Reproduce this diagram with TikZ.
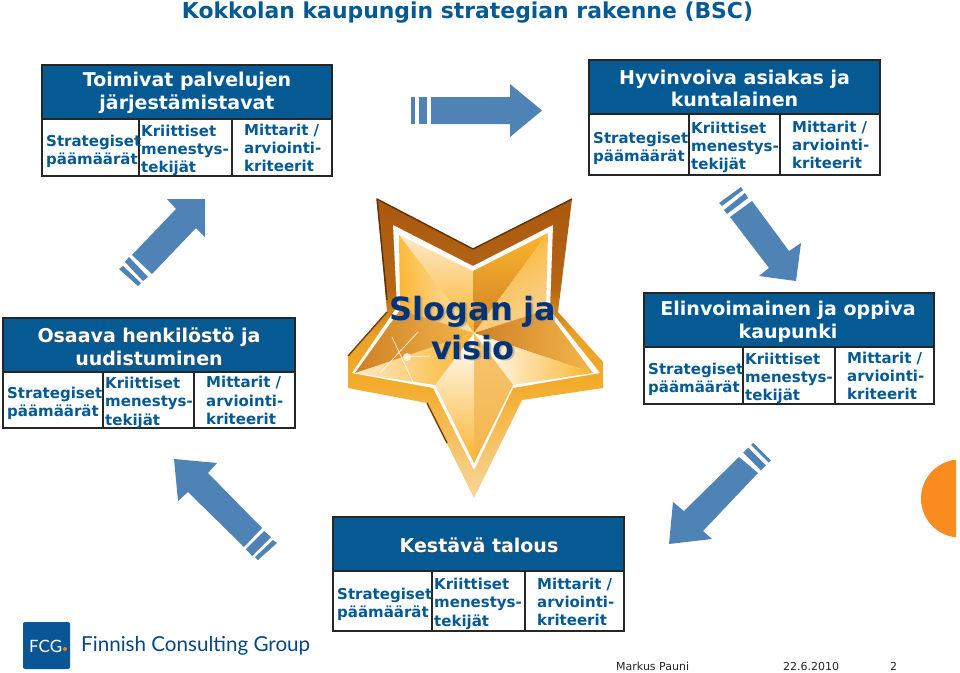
\documentclass[tikz,border=0pt]{standalone}
\usepackage{fontspec}
\setmainfont{DejaVu Sans}
\newfontfamily\fcgfont{Lato}
\definecolor{bscblue}{HTML}{065A94}
\definecolor{arrowblue}{HTML}{5083B5}
\definecolor{navy}{HTML}{033275}
\definecolor{goldA}{HTML}{FBB52E}
\definecolor{goldB}{HTML}{FDE9C6}
\definecolor{goldC}{HTML}{CE8024}
\definecolor{goldD}{HTML}{F3B64C}
\definecolor{brownA}{HTML}{A9580F}
\definecolor{logoblue}{HTML}{0A5596}
\definecolor{halfdisc}{HTML}{F98B21}
\pgfdeclareverticalshading{starband}{100bp}{
  color(0bp)=(goldD!55!white); color(25bp)=(goldD!55!white);
  color(44bp)=(goldA!90!brownA); color(52bp)=(goldA!80!brownA);
  color(60bp)=(brownA!85!goldA); color(75bp)=(brownA); color(100bp)=(brownA)}
\tikzset{
  x=1pt,y=-1pt,
  hdr/.style={fill=bscblue,draw=black!85,line width=1.1pt},
  cell/.style={fill=white,draw=black!85,line width=1.1pt},
  body/.style={inner sep=0pt,anchor=west,align=left,text=bscblue,font=\fontsize{15}{18.2}\selectfont\bfseries},
  ttl/.style={inner sep=0pt,align=center,text=white,font=\fontsize{19}{22.5}\selectfont\bfseries},
  ttlshadow/.style={inner sep=0pt,align=center,text=black!70,opacity=.75,font=\fontsize{19}{22.5}\selectfont\bfseries},
  ar/.style={fill=arrowblue,draw=none},
  foot/.style={inner sep=0pt,anchor=west,text=black!85,font=\fontsize{11}{14}\selectfont},
}
\newcommand{\bscbox}[8]{%
  \draw[hdr] (#2,#3) rectangle (#6,#7);
  \draw[cell] (#2,#7) rectangle (#4,#8);
  \draw[cell] (#4,#7) rectangle (#5,#8);
  \draw[cell] (#5,#7) rectangle (#6,#8);
  \node[body] (#1-a) at (#2+4,{(#7+#8)/2+3.5}) {Strategiset\\päämäärät};
  \node[body] (#1-b) at (#4+2,{(#7+#8)/2+2.8}) {Kriittiset\\menestys-\\tekijät};
  \node[body] (#1-c) at (#5+12,{(#7+#8)/2+0.6}) {Mittarit /\\arviointi-\\kriteerit};
}
\newcommand{\facet}[5]{%
  \shade[top color=#4,bottom color=#5,shading angle=#1] #2 -- (474,333) -- #3 -- cycle;
}
\begin{document}
\begin{tikzpicture}
\useasboundingbox (0,0) rectangle (960,672);
\fill[white] (0,0) rectangle (960,672);

% title
\node[inner sep=0pt,text=bscblue,font=\fontsize{21.9}{26}\selectfont\bfseries] (title) at (467.5,13) {Kokkolan kaupungin strategian rakenne (BSC)};

% orange half disc
\begin{scope}
\clip (900,440) rectangle (956,560);
\fill[halfdisc] (960,498.5) circle (39);
\end{scope}

% boxes
\bscbox{tl}{42}{65}{139}{232}{332}{119}{176}
\node[ttl] (tl-t) at (187,93) {Toimivat palvelujen\\järjestämistavat};
\bscbox{tr}{589}{60}{689}{780}{880}{114}{175}
\node[ttl] (tr-t) at (734.5,88.5) {Hyvinvoiva asiakas ja\\kuntalainen};
\bscbox{lf}{3}{318}{103}{194}{295}{372}{428}
\node[ttlshadow] (lf-s) at (150,348) {Osaava henkilöstö ja\\uudistuminen};
\node[ttl] (lf-t) at (149,347) {Osaava henkilöstö ja\\uudistuminen};
\bscbox{rg}{644}{293}{743}{835}{934}{347}{404}
\node[ttl] (rg-t) at (788,322) {Elinvoimainen ja oppiva\\kaupunki};
\bscbox{bt}{333}{517}{432}{525}{624}{571}{631}
\node[ttlshadow] (bt-s) at (480,546) {Kestävä talous};
\node[ttl] (bt-t) at (479,545) {Kestävä talous};

% arrows
\fill[ar] (431,97) -- (510,97) -- (510,84) -- (542,110.5) -- (510,137) -- (510,124) -- (431,124) -- cycle;
\fill[ar] (419,97) rectangle (427,124);
\fill[ar] (411,97) rectangle (415,124);

\fill[ar] (205,199) -- (205,237) -- (196,228) -- (152,274) -- (132,255) -- (176,209) -- (167,199) -- cycle;
\fill[ar] (129,257) -- (148,277) -- (143,281) -- (125,262) -- cycle;
\fill[ar] (123,266) -- (141,283) -- (138,286) -- (119,269) -- cycle;

\fill[ar] (796,281) -- (759,276) -- (769,268) -- (730,217) -- (752,201) -- (789,251) -- (801,243) -- cycle;
\fill[ar] (724,210) -- (745,193) -- (748,198) -- (727,214) -- cycle;
\fill[ar] (719,203) -- (741,187) -- (743,190) -- (722,206) -- cycle;

\fill[ar] (669,544) -- (673,502) -- (684,511) -- (739,457) -- (758,473) -- (703,531) -- (712,539) -- cycle;
\fill[ar] (743.2,452.7) -- (760.8,470.3) -- (765.8,465.3) -- (748.2,447.7) -- cycle;
\fill[ar] (751,445) -- (768.6,462.5) -- (770.8,460.3) -- (753.2,442.9) -- cycle;

\fill[ar] (174,459) -- (217,463) -- (208,473) -- (262,528) -- (244,547) -- (188,492) -- (178,501) -- cycle;
\fill[ar] (264,531) -- (271,537) -- (252,556) -- (246,549) -- cycle;
\fill[ar] (273,540) -- (277,543) -- (258,560) -- (255,557) -- cycle;

% star: outer band
\shade[shading=starband]
  (377,199) -- (473,249) -- (572,199) -- (558,312) -- (603,362) -- (603,388) -- (522,400) -- (474,498) -- (427,403) -- (348,388) -- (348,356) -- (387,312) -- cycle;
\draw[brownA!55!black,line width=1.4pt,line join=round] (387,300) -- (377,199) -- (473,249) -- (572,199);
\draw[brownA!70!black,line width=1.4pt] (387,312) -- (348,356);
\draw[brownA!70!black,line width=1.4pt] (427,403) -- (447,443);
% star: white line
\fill[white] (393,225) -- (473,266) -- (553,225) -- (550,310) -- (600,373) -- (513,388) -- (474,470) -- (433,388) -- (352,373) -- (397,307) -- cycle;
% star: facets
\facet{0}{(399,235)}{(473,271)}{goldB}{goldA}
\facet{100}{(400,310)}{(399,235)}{goldA}{goldB}
\facet{0}{(473,271)}{(548,233)}{goldA}{goldC}
\facet{30}{(548,233)}{(546,310)}{goldA}{goldD!60!white}
\facet{-90}{(546,310)}{(593,373)}{goldD}{goldC}
\facet{-90}{(593,373)}{(513,385)}{goldA}{white}
\facet{0}{(513,385)}{(474,463)}{goldD!80!white}{goldD}
\facet{0}{(474,463)}{(435,385)}{white}{goldA}
\facet{90}{(435,385)}{(355,373)}{goldB}{goldA}
\facet{90}{(355,373)}{(400,310)}{goldC}{goldD}
% sparkle
\draw[white,line width=.7pt,opacity=.9] (392,337) -- (413,382) (418,332) -- (380,373) (407,357) -- (430,356);
\fill[white,opacity=.75] (407,357) circle (4);

% slogan
\node[inner sep=0pt,align=center,text=black!40,opacity=.6,font=\fontsize{32}{39}\selectfont\bfseries] (sl-s) at (474.5,329) {Slogan ja\\visio};
\node[inner sep=0pt,align=center,text=navy,font=\fontsize{32}{39}\selectfont\bfseries] (sl) at (473,328) {Slogan ja\\visio};

% logo
\fill[logoblue,rounded corners=2pt] (23,622) rectangle (70,669);
\node[inner sep=0pt,anchor=west,text=white,font=\fcgfont\fontsize{17}{20}\selectfont] (fcg) at (29,646) {FCG};
\fill[orange] (65,649) circle (2);
\node[inner sep=0pt,anchor=west,text=logoblue!85!black,font=\fcgfont\fontsize{20.6}{24}\selectfont] (fcg-t) at (81,646) {Finnish Consulting Group};

% footer
\node[foot] (f1) at (616,666) {Markus Pauni};
\node[foot] (f2) at (783,666) {22.6.2010};
\node[foot] (f3) at (890,666) {2};
\end{tikzpicture}
\end{document}
